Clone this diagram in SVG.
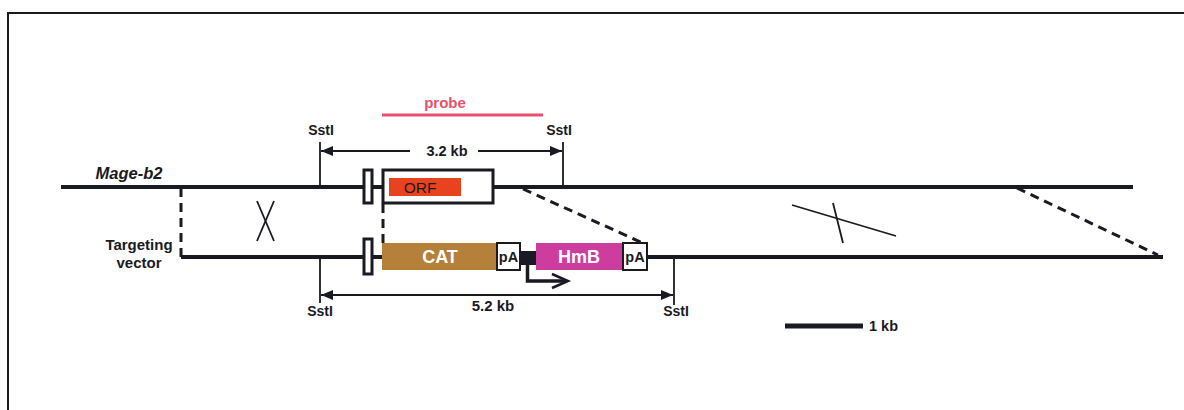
<svg xmlns="http://www.w3.org/2000/svg" width="1184" height="410" viewBox="0 0 1184 410">
<defs>
<style>
.t{font-family:"Liberation Sans",Arial,sans-serif;font-weight:bold;fill:#1a1a22}
.dna{stroke:#1a1a22;stroke-width:4;fill:none}
.thin{stroke:#1a1a22;stroke-width:1.8;fill:none}
.dash{stroke:#1a1a22;stroke-width:3;fill:none;stroke-dasharray:9,6}
.box{stroke:#1a1a22;stroke-width:3}
</style>
<marker id="ah" viewBox="0 0 12 10" refX="12" refY="5" markerWidth="12" markerHeight="10" markerUnits="userSpaceOnUse" orient="auto-start-reverse">
<path d="M0,0 L12,5 L0,10 z" fill="#1a1a22"/>
</marker>
</defs>
<rect width="1184" height="410" fill="#ffffff"/>
<path d="M8,420 L8,13 L1190,13" stroke="#1a1a22" stroke-width="2" fill="none"/>

<g id="connectors">
<line class="dash" x1="181" y1="188" x2="181" y2="257"/>
<line class="dash" x1="383" y1="204" x2="383" y2="243"/>
<line class="dash" x1="523" y1="189" x2="645" y2="244"/>
<line class="dash" x1="1017" y1="188" x2="1158" y2="255"/>
<line class="thin" x1="257" y1="201" x2="274" y2="241"/>
<line class="thin" x1="274" y1="201" x2="257" y2="241"/>
<line class="thin" x1="792" y1="205" x2="896" y2="236"/>
<line class="thin" x1="833" y1="203" x2="843" y2="243"/>
</g>

<g id="mage-b2">
<line class="dna" x1="61" y1="187" x2="1133" y2="187"/>
<text class="t" x="129" y="179" font-size="16.5" font-style="italic" text-anchor="middle">Mage-b2</text>
</g>

<g id="targeting-vector">
<line class="dna" x1="181" y1="257" x2="1163" y2="257"/>
<text class="t" x="139" y="250" font-size="15" text-anchor="middle">Targeting</text>
<text class="t" x="139" y="268" font-size="15" text-anchor="middle">vector</text>
</g>

<g id="probe">
<line x1="382" y1="115" x2="543" y2="115" stroke="#e8506a" stroke-width="3"/>
<text x="445" y="108" font-size="15" text-anchor="middle" font-family="&quot;Liberation Sans&quot;,Arial,sans-serif" font-weight="bold" fill="#e8506a">probe</text>
</g>

<g id="sst-top">
<line class="thin" x1="320" y1="142" x2="320" y2="187"/>
<line class="thin" x1="563" y1="142" x2="563" y2="187"/>
<text class="t" x="321" y="135" font-size="14" text-anchor="middle">SstI</text>
<text class="t" x="559" y="135" font-size="14" text-anchor="middle">SstI</text>
<line class="thin" x1="321" y1="151" x2="410" y2="151" marker-start="url(#ah)"/>
<line class="thin" x1="478" y1="151" x2="562" y2="151" marker-end="url(#ah)"/>
<text class="t" x="447" y="156" font-size="14.5" text-anchor="middle">3.2 kb</text>
</g>

<g id="exon-top">
<rect class="box" x="364" y="170" width="8" height="33" fill="#ffffff"/>
</g>
<g id="orf-box">
<rect class="box" x="383" y="170" width="110" height="33" fill="#ffffff"/>
<rect x="389" y="178" width="72" height="18" fill="#e8431e"/>
<text x="420" y="193" font-size="15.5" text-anchor="middle" font-family="&quot;Liberation Sans&quot;,Arial,sans-serif" fill="#1a1a22">ORF</text>
</g>

<g id="exon-bottom">
<rect class="box" x="364" y="239" width="8" height="35" fill="#ffffff"/>
</g>
<g id="cat">
<rect x="382" y="243" width="115" height="27" fill="#b5803a"/>
<text x="440" y="263" font-size="18" text-anchor="middle" font-family="&quot;Liberation Sans&quot;,Arial,sans-serif" font-weight="bold" fill="#ffffff">CAT</text>
</g>
<g id="pa1">
<rect x="497" y="243" width="23" height="27" fill="#ffffff" stroke="#1a1a22" stroke-width="2"/>
<text class="t" x="508.5" y="262" font-size="14.5" text-anchor="middle">pA</text>
</g>
<g id="promoter">
<rect x="520" y="251" width="16" height="14" fill="#1a1a22"/>
<path d="M527.5,263 L527.5,281 L566,281" stroke="#1a1a22" stroke-width="3.5" fill="none"/>
<path d="M552,274 L568,281 L552,288" stroke="#1a1a22" stroke-width="2.5" fill="none"/>
</g>
<g id="hmb">
<rect x="536" y="243" width="87" height="27" fill="#cc3d9e"/>
<text x="579" y="263" font-size="18" text-anchor="middle" font-family="&quot;Liberation Sans&quot;,Arial,sans-serif" font-weight="bold" fill="#ffffff">HmB</text>
</g>
<g id="pa2">
<rect x="623" y="243" width="24" height="27" fill="#ffffff" stroke="#1a1a22" stroke-width="2"/>
<text class="t" x="635" y="262" font-size="14.5" text-anchor="middle">pA</text>
</g>

<g id="sst-bottom">
<line class="thin" x1="320" y1="257" x2="320" y2="303"/>
<line class="thin" x1="674" y1="257" x2="674" y2="305"/>
<text class="t" x="320" y="316" font-size="14" text-anchor="middle">SstI</text>
<text class="t" x="676" y="316" font-size="14" text-anchor="middle">SstI</text>
<line class="thin" x1="321" y1="295" x2="673" y2="295" marker-start="url(#ah)" marker-end="url(#ah)"/>
<text class="t" x="493" y="311" font-size="15" text-anchor="middle">5.2 kb</text>
</g>

<g id="scale">
<line x1="785" y1="326" x2="863" y2="326" stroke="#1a1a22" stroke-width="5"/>
<text class="t" x="869" y="331" font-size="14.5">1 kb</text>
</g>
</svg>
